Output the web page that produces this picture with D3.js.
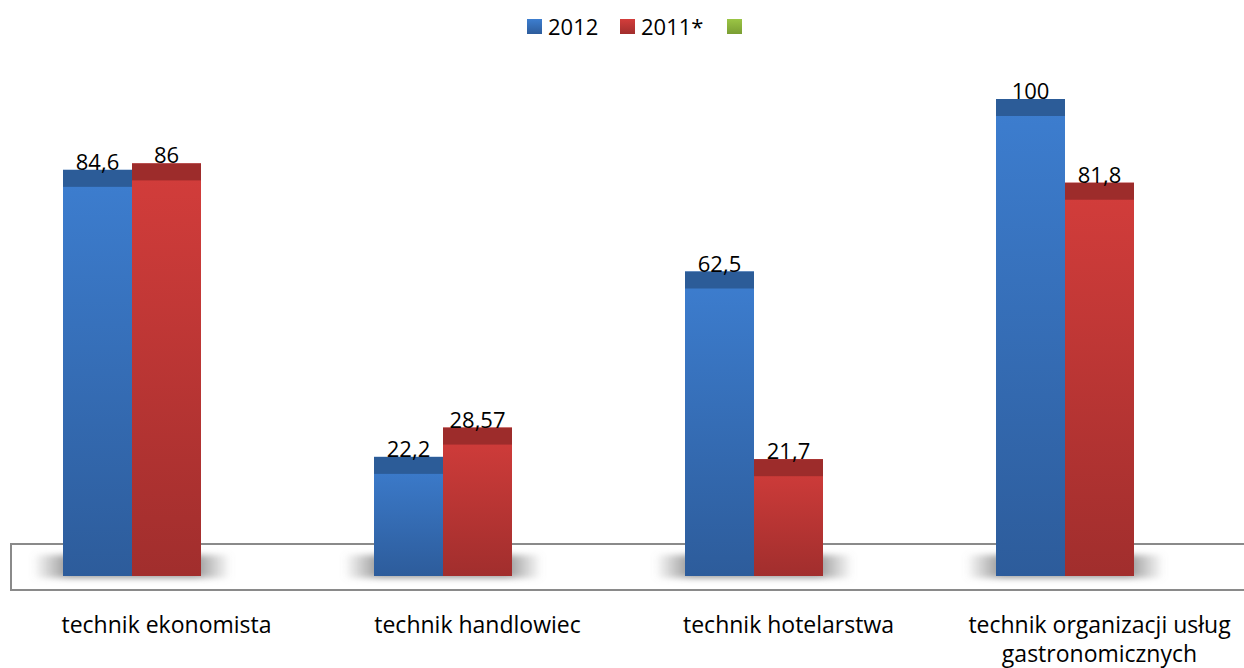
<!DOCTYPE html>
<html>
<head>
<meta charset="utf-8">
<script src="https://cdn.jsdelivr.net/npm/d3@7"></script>
<style>
body { margin: 0; background: #fff; }
text { font-family: "Open Sans", "Noto Sans", sans-serif; fill: #000; }
</style>
</head>
<body>
<script>
//----
//Data
//----
var categories = ['technik ekonomista', 'technik handlowiec', 'technik hotelarstwa', 'technik organizacji usług gastronomicznych']
var series = ['2012', '2011*', '']
var values2012 = [84.6, 22.2, 62.5, 100]
var values2011 = [86, 28.57, 21.7, 81.8]
var labels2012 = ['84,6', '22,2', '62,5', '100']
var labels2011 = ['86', '28,57', '21,7', '81,8']
var legendNames = ['2012', '2011*', '']

var _width = 1244,
	_height = 668

var _svg = d3.select('body').append('svg')
	.attr('width', _width)
	.attr('height', _height)

var defs = _svg.append('defs')

//gradients for bar fronts
function _grad(id, c1, c2){
	var g = defs.append('linearGradient').attr('id', id)
		.attr('x1', 0).attr('y1', 0).attr('x2', 0).attr('y2', 1)
	g.append('stop').attr('offset', '0%').attr('stop-color', c1)
	g.append('stop').attr('offset', '100%').attr('stop-color', c2)
}
_grad('gBlue', '#3d7ed0', '#2d5c9b')
_grad('gRed', '#d33d3b', '#a12e2d')
_grad('gGreen', '#9bc545', '#7a9e33')

var shadowGrad = defs.append('linearGradient').attr('id', 'gShadow')
	.attr('x1', 0).attr('y1', 0).attr('x2', 1).attr('y2', 0)
shadowGrad.append('stop').attr('offset', '0%').attr('stop-color', '#999').attr('stop-opacity', 0)
shadowGrad.append('stop').attr('offset', '18%').attr('stop-color', '#999').attr('stop-opacity', 1)
shadowGrad.append('stop').attr('offset', '82%').attr('stop-color', '#999').attr('stop-opacity', 1)
shadowGrad.append('stop').attr('offset', '100%').attr('stop-color', '#999').attr('stop-opacity', 0)

defs.append('filter').attr('id', 'blur').attr('x', '-20%').attr('y', '-50%').attr('width', '140%').attr('height', '200%')
	.append('feGaussianBlur').attr('stdDeviation', 3)

//------
//Scales
//------
//three series slots per category, the third one is empty
var x0 = d3.scaleBand().domain(categories).range([11, 1255])
var x1 = d3.scaleBand().domain(series).range([0, 207])
var y = d3.scaleLinear().domain([0, 100]).range([559, 99])
var barBottom = 576
var capH = 17

//-----
//Floor
//-----
_svg.append('rect')
	.attr('x', 11).attr('y', 544)
	.attr('width', 1250).attr('height', 46)
	.attr('fill', '#fff')
	.attr('stroke', '#8a8a8a').attr('stroke-width', 2)

var groups = _svg.selectAll('g.cat').data(categories).enter().append('g')
	.classed('cat', true)
	.attr('transform', function(d){ return 'translate(' + (x0(d) + x0.bandwidth()/2 - 103.5) + ',0)' })

//shadows
groups.append('rect')
	.attr('x', -30).attr('y', 555)
	.attr('width', 198).attr('height', 23)
	.attr('fill', 'url(#gShadow)')
	.attr('filter', 'url(#blur)')

//----
//Bars
//----
var barData = categories.map(function(c, i){
	return [
		{ s: '2012', v: values2012[i], l: labels2012[i], fill: 'url(#gBlue)', cap: '#2c5c98' },
		{ s: '2011*', v: values2011[i], l: labels2011[i], fill: 'url(#gRed)', cap: '#9d2c2b' }
	]
})

var bars = groups.selectAll('g.bar').data(function(d, i){ return barData[i] }).enter().append('g')
	.classed('bar', true)

bars.append('rect')
	.attr('x', function(d){ return x1(d.s) })
	.attr('y', function(d){ return y(d.v) })
	.attr('width', x1.bandwidth())
	.attr('height', function(d){ return barBottom - y(d.v) })
	.attr('fill', function(d){ return d.fill })

bars.append('rect')
	.attr('x', function(d){ return x1(d.s) })
	.attr('y', function(d){ return y(d.v) })
	.attr('width', x1.bandwidth())
	.attr('height', capH)
	.attr('fill', function(d){ return d.cap })

bars.append('text')
	.attr('x', function(d){ return x1(d.s) + x1.bandwidth()/2 })
	.attr('y', function(d){ return y(d.v) })
	.attr('text-anchor', 'middle')
	.style('font-size', '22px')
	.text(function(d){ return d.l })

//--------------
//Category texts
//--------------
var catText = groups.append('text')
	.attr('x', 103.5)
	.attr('y', 633)
	.attr('text-anchor', 'middle')
	.style('font-size', '23px')

catText.each(function(d){
	var t = d3.select(this)
	var parts = d.length > 30 ? ['technik organizacji usług', 'gastronomicznych'] : [d]
	parts.forEach(function(p, i){
		t.append('tspan').attr('x', 103.5).attr('dy', i ? 29 : 0).text(p)
	})
})

//------
//Legend
//------
var legendFills = ['url(#gBlue)', 'url(#gRed)', 'url(#gGreen)']
var legendX = [527, 620, 727]
var legend = _svg.selectAll('g.leg').data(legendNames).enter().append('g')
	.classed('leg', true)
	.attr('transform', function(d, i){ return 'translate(' + legendX[i] + ',19)' })
legend.append('rect')
	.attr('width', 15).attr('height', 15)
	.attr('fill', function(d, i){ return legendFills[i] })
legend.append('text')
	.attr('x', 21).attr('y', 16)
	.style('font-size', '22px')
	.text(function(d){ return d })
</script>
</body>
</html>
